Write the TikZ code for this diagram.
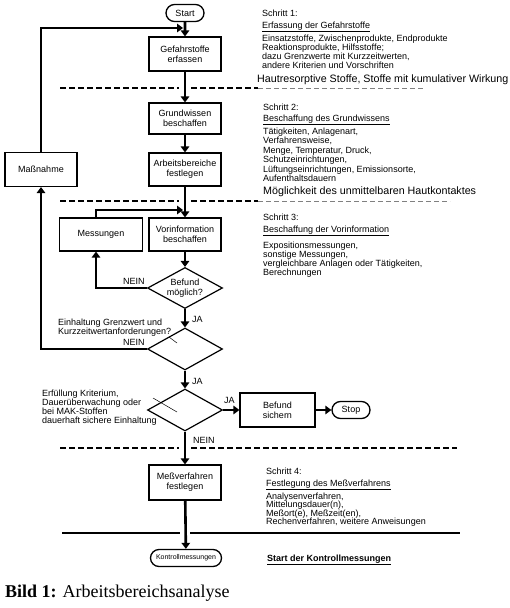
\documentclass[tikz,border=0pt]{standalone}
\usepackage{fontspec}
\setmainfont{Liberation Sans}
\newfontfamily\capserif{Liberation Serif}
\usetikzlibrary{shapes.geometric,shapes.misc,arrows.meta,calc}
\begin{document}
\begin{tikzpicture}[x=1pt,y=-1pt,
  every node/.style={font=\fontsize{9}{10}\selectfont, inner sep=0pt},
  box/.style={draw, line width=1.2pt, minimum width=72pt, minimum height=34pt, align=center},
  term/.style={draw, rounded rectangle, line width=1.3pt, minimum width=38pt, minimum height=17pt},
  dec/.style={draw, diamond, line width=1.2pt, minimum width=75pt, minimum height=41pt, aspect=1.8, align=center},
  arr/.style={line width=2.6pt, -{Triangle[length=6pt,width=8.5pt]}},
  heavydash/.style={line width=1.9pt, dash pattern=on 6pt off 3pt},
  lightdash/.style={line width=0.9pt, gray, dash pattern=on 5pt off 3pt},
  txt/.style={anchor=base west},
  big/.style={anchor=base west, font=\fontsize{10.7}{12}\selectfont},
  tick/.style={line width=0.5pt},
]
\useasboundingbox[fill=white] (0,0) rectangle (510,608);

% flow nodes
\node[term] (start) at (185,13) {Start};
\node[box] (gef) at (185,54) {Gefahrstoffe\\erfassen};
\node[box, minimum height=31pt] (grund) at (185,118.5) {Grundwissen\\beschaffen};
\node[box, minimum height=33pt] (arb) at (185,169.5) {Arbeitsbereiche\\festlegen};
\node[box] (mass) at (41,169.5) {Maßnahme};
\node[box, minimum width=83pt, minimum height=33pt] (mes) at (101,234.5) {Messungen};
\node[box, minimum height=33pt] (vor) at (185,234.5) {Vorinformation\\beschaffen};
\node[dec] (d1) at (185,288) {Befund\\möglich?};
\node[dec, minimum height=42pt] (d2) at (185,349) {};
\node[dec, minimum height=42pt] (d3) at (185,410) {};
\node[box, minimum width=75pt] (bef) at (277.5,410) {Befund\\sichern};
\node[term] (stop) at (351,410) {Stop};
\node[box, minimum height=35pt] (mv) at (185,482.5) {Meßverfahren\\festlegen};
\node[term, minimum width=71pt, font=\fontsize{7}{8}\selectfont] (km) at (186,558) {Kontrollmessungen};

% connectors
\draw[arr] (start) -- (gef);
\draw[arr] (gef) -- (grund);
\draw[arr] (grund) -- (arb);
\draw[arr] (arb) -- (vor);
\draw[arr] (vor) -- (d1);
\draw[arr] (d1) -- (d2);
\draw[arr] (d2) -- (d3);
\draw[arr] (d3) -- (bef);
\draw[arr] (bef) -- (stop);
\draw[arr] (d3) -- (mv);
\draw[arr] (mv) -- (km);
\coordinate (j1) at (183,28);
\coordinate (j2) at (183,210);
\draw[arr] (mass.north) |- (j1);
\draw[arr] ($(mes.north)+(-5,0)$) |- (j2);
\draw[arr] (d1.west) -| ($(mes.south)+(-5,0)$);
\draw[arr] (d2.west) -| (mass.south);

% ticks in diamonds
\draw[tick] (169,337) -- (177,343);
\draw[tick] (153,398) -- (177,412);

% labels
\node[txt] (n1) at (123,284) {NEIN};
\node[txt] (n2) at (123,345) {NEIN};
\node[txt] (ja1) at (192,322) {JA};
\node[txt] (ja2) at (192,384) {JA};
\node[txt] (ja3) at (224,403) {JA};
\node[txt] (n3) at (193,443) {NEIN};

% separators
\draw[heavydash] (60,88) -- (179,88);
\draw[heavydash] (191,88) -- (258,88);
\draw[lightdash] (258,88) -- (425,88);
\draw[heavydash] (60,201) -- (179,201);
\draw[heavydash] (191,201) -- (258,201);
\draw[lightdash] (258,201) -- (450,201);
\draw[heavydash] (60,448) -- (179,448);
\draw[heavydash] (191,448) -- (457,448);
\draw[line width=1.6pt] (62,533) -- (180,533);
\draw[line width=1.6pt] (190,533) -- (460,533);

% step 1
\node[txt] (s1a) at (262,16) {Schritt 1:};
\node[txt] (s1b) at (262,28) {\underline{Erfassung der Gefahrstoffe}};
\node[txt] (s1c) at (262,41) {Einsatzstoffe, Zwischenprodukte, Endprodukte};
\node[txt] (s1d) at (262,50) {Reaktionsprodukte, Hilfsstoffe;};
\node[txt] (s1e) at (262,59) {dazu Grenzwerte mit Kurzzeitwerten,};
\node[txt] (s1f) at (262,68) {andere Kriterien und Vorschriften};
\node[big] (s1g) at (257,82) {Hautresorptive Stoffe, Stoffe mit kumulativer Wirkung};

% step 2
\node[txt] (s2a) at (263,110) {Schritt 2:};
\node[txt] (s2b) at (263,121) {\underline{Beschaffung des Grundwissens}};
\node[txt] (s2c) at (263,134) {Tätigkeiten, Anlagenart,};
\node[txt] (s2d) at (263,143.5) {Verfahrensweise,};
\node[txt] (s2e) at (263,153) {Menge, Temperatur, Druck,};
\node[txt] (s2f) at (263,162.5) {Schutzeinrichtungen,};
\node[txt] (s2g) at (263,172) {Lüftungseinrichtungen, Emissionsorte,};
\node[txt] (s2h) at (263,181.5) {Aufenthaltsdauern};
\node[big] (s2i) at (263,194) {Möglichkeit des unmittelbaren Hautkontaktes};

% step 3
\node[txt] (s3a) at (263,220) {Schritt 3:};
\node[txt] (s3b) at (263,232) {\underline{Beschaffung der Vorinformation}};
\node[txt] (s3c) at (263,248) {Expositionsmessungen,};
\node[txt] (s3d) at (263,257) {sonstige Messungen,};
\node[txt] (s3e) at (263,266) {vergleichbare Anlagen oder Tätigkeiten,};
\node[txt] (s3f) at (263,275) {Berechnungen};

% step 4
\node[txt] (s4a) at (266,474) {Schritt 4:};
\node[txt] (s4b) at (266,486) {\underline{Festlegung des Meßverfahrens}};
\node[txt] (s4c) at (266,499) {Analysenverfahren,};
\node[txt] (s4d) at (266,507.5) {Mittelungsdauer(n),};
\node[txt] (s4e) at (266,516) {Meßort(e), Meßzeit(en),};
\node[txt] (s4f) at (266,524.5) {Rechenverfahren, weitere Anweisungen};
\node[txt, font=\bfseries\fontsize{9}{10}\selectfont] (s5) at (267,561) {\underline{Start der Kontrollmessungen}};

% left texts
\node[txt] (q1a) at (58,325) {Einhaltung Grenzwert und};
\node[txt] (q1b) at (58,334) {Kurzzeitwertanforderungen?};
\node[txt] (q2a) at (42,396) {Erfüllung Kriterium,};
\node[txt] (q2b) at (42,405) {Dauerüberwachung oder};
\node[txt] (q2c) at (42,414) {bei MAK-Stoffen};
\node[txt] (q2d) at (42,423) {dauerhaft sichere Einhaltung};

% caption
\node[anchor=base west, font=\capserif\fontsize{18}{20}\selectfont] (cap) at (5,597) {\textbf{Bild 1:} Arbeitsbereichsanalyse};
\end{tikzpicture}
\end{document}
